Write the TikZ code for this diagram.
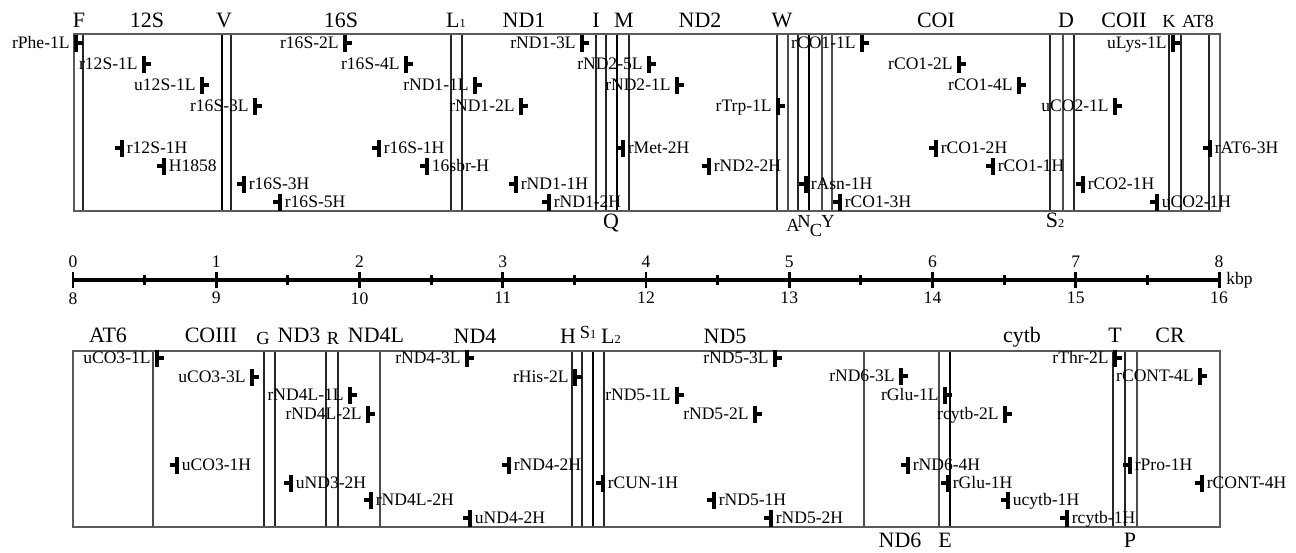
\documentclass[tikz,border=0pt]{standalone}
\usepackage{fontspec}
\setmainfont{Liberation Serif}
\usetikzlibrary{calc}
\newcommand{\smalldigit}[1]{{\fontsize{7}{8}\selectfont #1}}
\tikzset{
  boxframe/.style={draw=black!65, line width=0.85pt},
  bound/.style={black!85, line width=0.8pt},
  boundthick/.style={black, line width=1.6pt},
  boundthin/.style={black!70, line width=0.6pt},
  genelab/.style={anchor=base, inner sep=0pt, font=\fontsize{12.5}{15}\selectfont},
  smallgene/.style={anchor=base, inner sep=0pt, font=\fontsize{10.5}{12}\selectfont},
  llab/.style={anchor=east, inner sep=0pt, text height=6.7pt, text depth=0pt, font=\fontsize{10}{12}\selectfont},
  hlab/.style={anchor=west, inner sep=0pt, text height=6.7pt, text depth=0pt, font=\fontsize{10}{12}\selectfont},
  numlab/.style={inner sep=0pt, font=\fontsize{10}{12}\selectfont},
  axisbar/.style={black, line width=2pt},
  majortick/.style={black, line width=1.7pt},
  minortick/.style={black, line width=1.7pt}
}

\begin{document}
\begin{tikzpicture}[x=0.02cm, y=-0.02cm]
  \useasboundingbox (0,0) rectangle (1296,552);

  \foreach \x in {83,231,451,462,596,606,629,777,798,1050,1074,1169,1181,1209}
    \draw[bound] (\x,34) -- (\x,211);
  \foreach \x in {222,617,809}
    \draw[boundthick] (\x,34) -- (\x,211);
  \foreach \x in {788,822,832,1063}
    \draw[boundthin] (\x,34) -- (\x,211);
  \draw[boxframe] (74,34) rectangle (1220,211);

  \foreach \x in {264,275,326,338,572,582,604,1113,1125}
    \draw[bound] (\x,351) -- (\x,527);
  \foreach \x in {593,950}
    \draw[boundthick] (\x,351) -- (\x,527);
  \foreach \x in {153,380,864,939,1137}
    \draw[boundthin] (\x,351) -- (\x,527);
  \draw[boxframe] (73,351) rectangle (1220,527);

  \foreach \x/\y/\t [count=\i] in {79/27/F, 147/27/12S, 224/27/V, 341/27/16S, 456/27/L\smalldigit{1}, 524/27/ND1, 596/27/I, 624/27/M, 700/27/ND2, 782/27/W, 936/27/COI, 1066/27/D, 1124/27/COII, 611/228/Q, 1055/227/S\smalldigit{2},
      108/342/AT6, 211/342/COIII, 299/342/ND3, 376/342/ND4L, 475/343/ND4, 568/343/H, 611/343/L\smalldigit{2}, 725/343/ND5, 1022/342/cytb, 1115/342/T, 1170/342/CR, 900/547/ND6, 945/547/E, 1130/547/P}
    \node[genelab] (gn\i) at (\x,\y) {\t};
  \foreach \x/\y/\t [count=\i] in {1169/27/K, 1198/27/AT8, 793/231/A, 804/227/N, 816/236/C, 828/227/Y, 263/344/G, 333/344/R, 588/338/S\smalldigit{1}}
    \node[smallgene] (gs\i) at (\x,\y) {\t};

  \foreach \x/\y/\t [count=\i] in {76/43/rPhe-1L, 144/64/r12S-1L, 202/85/u12S-1L, 255/106/r16S-3L, 345/43/r16S-2L, 406/64/r16S-4L, 475/85/rND1-1L, 521/106/rND1-2L, 582/43/rND1-3L, 649/64/rND2-5L, 677/85/rND2-1L, 778/106/rTrp-1L, 862/43/rCO1-1L, 959/64/rCO1-2L, 1019/85/rCO1-4L, 1115/106/uCO2-1L, 1173/43/uLys-1L,
      157/358/uCO3-1L, 252/377/uCO3-3L, 350/395/rND4L-1L, 368/414/rND4L-2L, 467/358/rND4-3L, 575/377/rHis-2L, 677/395/rND5-1L, 755/414/rND5-2L, 775/358/rND5-3L, 901/376/rND6-3L, 945/395/rGlu-1L, 1005/414/rcytb-2L, 1115/358/rThr-2L, 1200/376/rCONT-4L}{
    \fill (\x-2,\y-8.5) rectangle (\x+2,\y+8.5);
    \fill (\x+2,\y-2) rectangle (\x+7,\y+2);
    \node[llab] (lm\i) at (\x-6,\y) {\t};
  }
  \foreach \x/\y/\t [count=\i] in {122/148/r12S-1H, 164/166/H1858, 244/184/r16S-3H, 280/202/r16S-5H, 379/148/r16S-1H, 427/166/16sbr-H, 516/184/rND1-1H, 549/202/rND1-2H, 623/148/rMet-2H, 709/166/rND2-2H, 806/184/rAsn-1H, 840/202/rCO1-3H, 936/148/rCO1-2H, 993/166/rCO1-1H, 1083/184/rCO2-1H, 1157/202/uCO2-1H, 1210/148/rAT6-3H,
      177/465/uCO3-1H, 291/483/uND3-2H, 371/500/rND4L-2H, 470/518/uND4-2H, 509/465/rND4-2H, 603/483/rCUN-1H, 714/500/rND5-1H, 771/518/rND5-2H, 908/465/rND6-4H, 948/483/rGlu-1H, 1008/500/ucytb-1H, 1067/518/rcytb-1H, 1130/465/rPro-1H, 1202/483/rCONT-4H}{
    \fill (\x-2,\y-8.5) rectangle (\x+2,\y+8.5);
    \fill (\x-7,\y-2) rectangle (\x-2,\y+2);
    \node[hlab] (hm\i) at (\x+4.5,\y) {\t};
  }

  \coordinate (a0) at (73,280);
  \coordinate (a8) at (1219,280);
  \draw[axisbar] (a0) -- (a8);
  \foreach \k in {0,...,8}{
    \pgfmathsetmacro{\xk}{73+143.25*\k}
    \pgfmathtruncatemacro{\kk}{\k+8}
    \draw[majortick] (\xk,272) -- (\xk,288);
    \node[numlab, anchor=south] (up\k) at (\xk,268) {\k};
    \node[numlab, anchor=north] (dn\k) at (\xk,292) {\kk};
  }
  \foreach \k in {0,...,7}{
    \pgfmathsetmacro{\xk}{73+143.25*(\k+0.5)}
    \draw[minortick] (\xk,275) -- (\xk,285);
  }
  \node[numlab, anchor=west] (unit) at (1226,280) {kbp};
\end{tikzpicture}
\end{document}
